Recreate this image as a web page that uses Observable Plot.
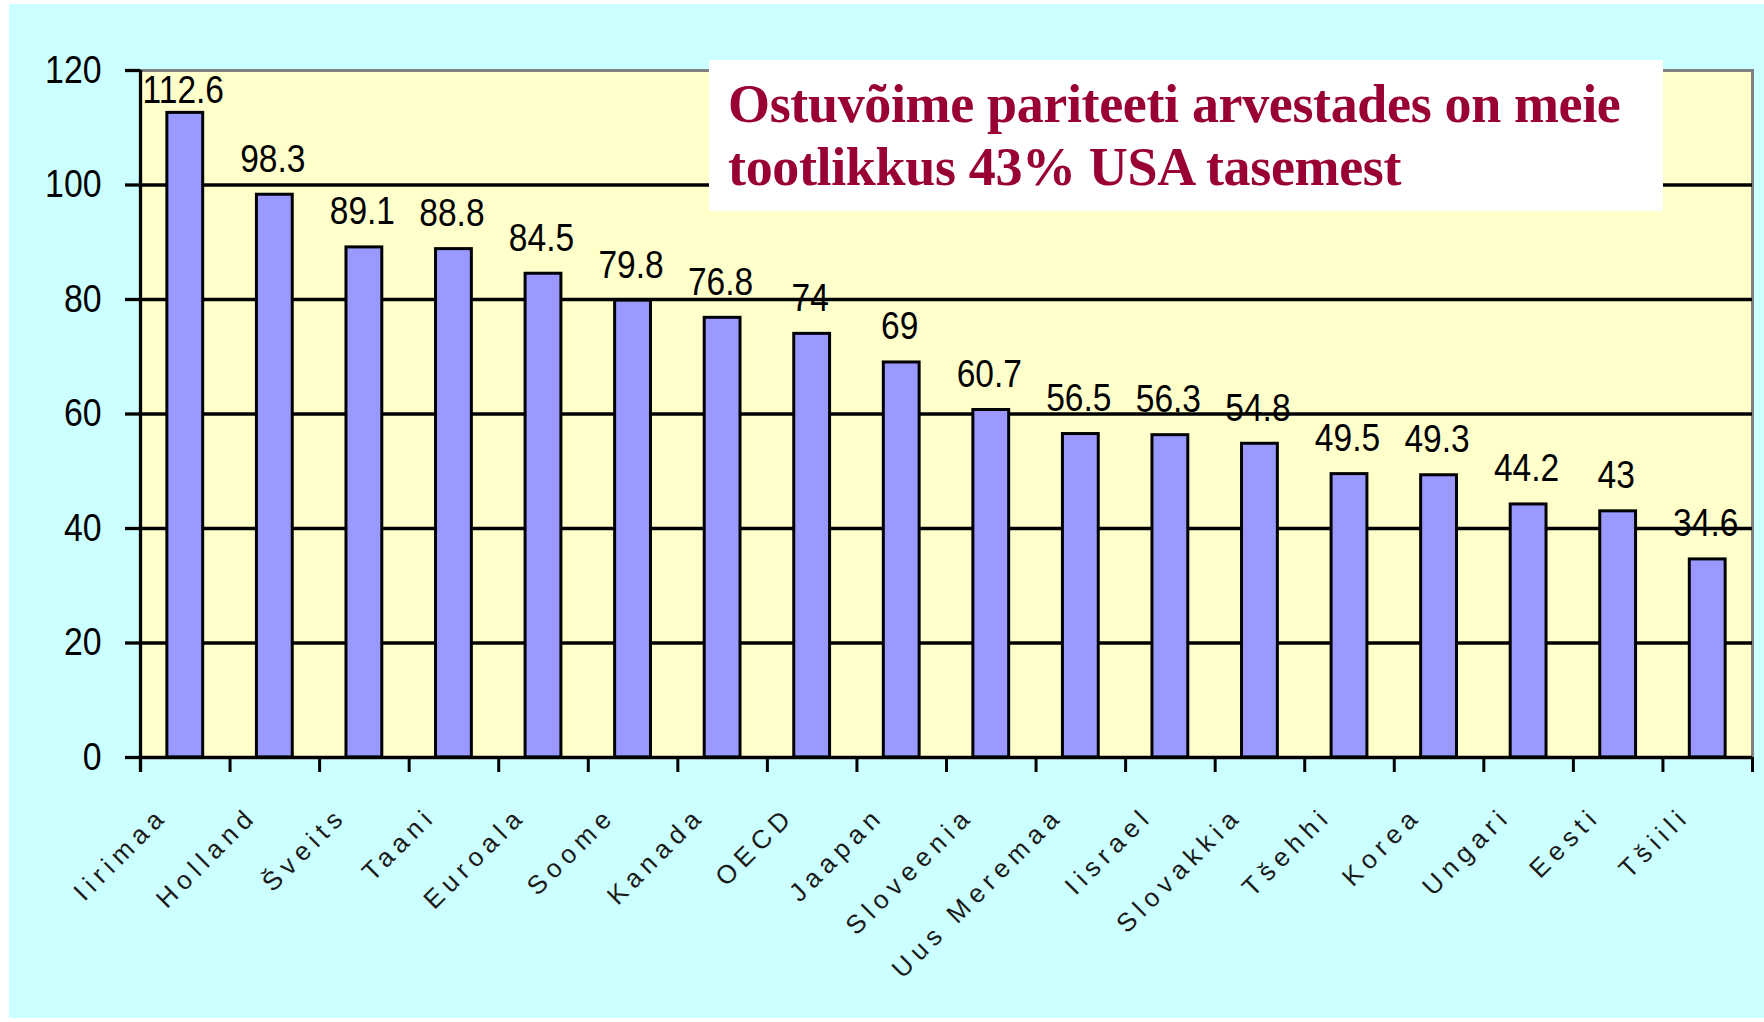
<!DOCTYPE html>
<html><head><meta charset="utf-8">
<script src="https://cdn.jsdelivr.net/npm/d3@7"></script>
<script src="https://cdn.jsdelivr.net/npm/@observablehq/plot@0.6"></script>
<style>
html,body{margin:0;padding:0;background:#fff;width:1764px;height:1022px;overflow:hidden;}
#page{position:absolute;left:9px;top:4px;width:1755px;height:1014px;background:#CCFFFF;}
#chart{position:absolute;left:0;top:0;}
#title{position:absolute;left:709px;top:60px;width:954px;height:151px;background:#fff;box-sizing:border-box;padding:13px 0 0 19px;font-family:"Liberation Serif","Times New Roman",serif;font-weight:bold;font-size:54px;line-height:63px;color:#990033;white-space:nowrap;letter-spacing:-0.35px;}
</style></head><body>
<div id="page"></div>
<div id="chart"></div>
<div id="title"></div>
<script>
const countries = ["Iirimaa","Holland","Šveits","Taani","Euroala","Soome","Kanada","OECD","Jaapan","Sloveenia","Uus Meremaa","Iisrael","Slovakkia","Tšehhi","Korea","Ungari","Eesti","Tšiili"];
const values = [112.6, 98.3, 89.1, 88.8, 84.5, 79.8, 76.8, 74, 69, 60.7, 56.5, 56.3, 54.8, 49.5, 49.3, 44.2, 43, 34.6];
const yTicks = [0, 20, 40, 60, 80, 100, 120];
const gridValues = [20, 40, 60, 80, 100];
const titleLines = ["Ostuvõime pariteeti arvestades on meie", "tootlikkus 43% USA tasemest"];

const titleEl = document.getElementById("title");
titleLines.forEach((t, i) => {
  if (i) titleEl.appendChild(document.createElement("br"));
  titleEl.appendChild(document.createTextNode(t));
});

const W = 1764, H = 1022, mL = 140, mR = 12, mT = 70, mB = 265;
const yMax = 120;
const step = (W - mL - mR) / countries.length;
const pxPerUnit = (H - mT - mB) / yMax;
const tickLen = 15 / pxPerUnit;
const labelGap = 23 / pxPerUnit;
const labelCeil = yMax - 32 / pxPerUnit;
const data = countries.map((c, i) => ({country: c, value: values[i]}));
const sans = "'Liberation Sans', Arial, sans-serif";

const chart = Plot.plot({
  width: W, height: H,
  marginLeft: mL, marginRight: mR, marginTop: mT, marginBottom: mB,
  style: {background: "transparent", overflow: "visible"},
  x: {domain: countries, paddingInner: 0.6, paddingOuter: 0.3, round: false, axis: null},
  y: {domain: [0, yMax], axis: null},
  marks: [
    Plot.frame({fill: "#FFFFCC", stroke: "#808080", strokeWidth: 3}),
    Plot.ruleY(gridValues, {stroke: "#000", strokeWidth: 3.3}),
    Plot.barY(data, {x: "country", y: "value", fill: "#9999FF", stroke: "#000", strokeWidth: 3}),
    Plot.ruleY([0], {stroke: "#000", strokeWidth: 3.3}),
    Plot.ruleX(countries, {x: d => d, dx: -step / 2, y1: 0, y2: -tickLen, stroke: "#000", strokeWidth: 3}),
    Plot.ruleX([countries[countries.length - 1]], {x: d => d, dx: step / 2, y1: 0, y2: -tickLen, stroke: "#000", strokeWidth: 3}),
    Plot.ruleX([countries[0]], {x: d => d, dx: -step / 2, y1: -tickLen, y2: yMax, stroke: "#000", strokeWidth: 3.3}),
    Plot.axisY({ticks: yTicks, tickSize: 15, tickPadding: 24, fontSize: 38, fontFamily: sans, color: "#000", strokeWidth: 3.3, label: null}),
    Plot.text(data, {x: "country", y: d => Math.min(d.value + labelGap, labelCeil), text: d => String(d.value), dx: -2, lineAnchor: "bottom", fontSize: 39, fontFamily: sans, fill: "#000"}),
    Plot.text(countries, {x: d => d, frameAnchor: "bottom", dy: 54, dx: -22, rotate: -45, textAnchor: "end", lineAnchor: "middle", fontSize: 26, fontFamily: sans, fill: "#1a1a1a"})
  ]
});
document.getElementById("chart").appendChild(chart);

function squeeze(text, s) {
  const x = +text.getAttribute("x") || 0, y = +text.getAttribute("y") || 0;
  const t = text.getAttribute("transform") || "";
  text.setAttribute("transform", `${t} translate(${x},${y}) scale(${s},1) translate(${-x},${-y})`);
}
chart.querySelectorAll('g[aria-label="y-axis tick label"] text').forEach(t => squeeze(t, 0.89));
chart.querySelectorAll('g[aria-label="text"]').forEach(g => {
  if (g.textContent.includes(countries[0])) g.style.letterSpacing = "6px";
  else g.querySelectorAll("text").forEach(t => squeeze(t, 0.86));
});
</script>
</body></html>
